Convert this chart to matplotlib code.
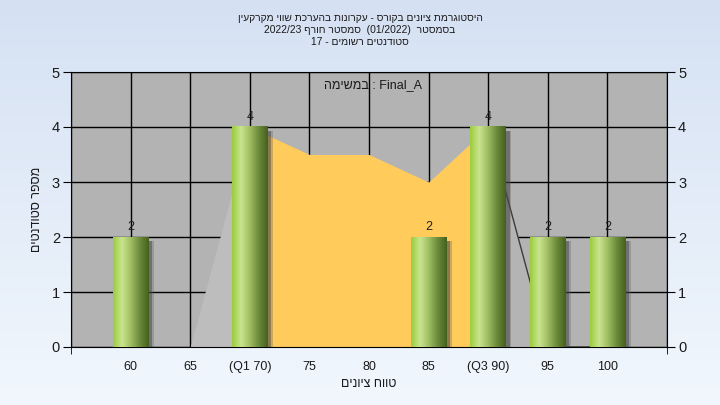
#Grade histogram chart (Hebrew course report)
import re
import numpy as np
import matplotlib
matplotlib.use('Agg')
import matplotlib.pyplot as plt
from matplotlib.colors import LinearSegmentedColormap

plt.rcParams['font.family'] = ['Liberation Sans', 'DejaVu Sans']

# data
categories = ['60', '65', '(Q1 70)', '75', '80', '85', '(Q3 90)', '95', '100']
counts = [2, 0, 4, 0, 0, 2, 4, 2, 2]
area_values = [0, 0, 4, 3.5, 3.5, 3, 4, 0, 0]
q1_idx = 2
q3_idx = 6

title_lines = ['היסטוגרמת ציונים בקורס - עקרונות בהערכת שווי מקרקעין',
               'בסמסטר  (01/2022)  סמסטר חורף 2022/23',
               'סטודנטים רשומים - 17']
legend_word = 'במשימה'
legend_name = 'Final_A'
x_title = 'טווח ציונים'
y_title = 'מספר סטודנטים'


def rtl(s):
    """Turn logical Hebrew text into visual order for matplotlib."""
    s = s[::-1].translate(str.maketrans('()', ')('))
    return re.sub(r'[A-Za-z0-9][A-Za-z0-9/._]*', lambda m: m.group(0)[::-1], s)


fig = plt.figure(figsize=(7.2, 4.05), dpi=100)

# light blue page background
bg = fig.add_axes([0, 0, 1, 1], zorder=-10)
grad = np.linspace(0, 1, 256).reshape(-1, 1)
bg.imshow(grad, aspect='auto', extent=[0, 1, 0, 1],
          cmap=LinearSegmentedColormap.from_list('bg', ['#d5e1f3', '#f1f7fd']))
bg.axis('off')

ax = fig.add_axes([71 / 720, 1 - 347 / 405, 596 / 720, 275 / 405])
ax.set_facecolor('#b3b3b3')
x = np.arange(len(categories))

# grid
for xi in np.arange(-1, len(categories) + 1):
    ax.axvline(xi, color='black', lw=1, zorder=0.5)
for yi in range(0, 6):
    ax.axhline(yi, color='black', lw=1, zorder=0.5)

# distribution area: grey outside the quartiles, yellow between them
ax.fill_between(x[:q1_idx + 1], area_values[:q1_idx + 1], color='#bdbdbd', lw=0, zorder=1)
ax.fill_between(x[q1_idx:q3_idx + 1], area_values[q1_idx:q3_idx + 1], color='#ffcb5b', lw=0, zorder=1.2)
ax.fill_between(x[q3_idx:], area_values[q3_idx:], color='#b4b4b4', lw=0, zorder=1)
ax.plot(x[q3_idx:], area_values[q3_idx:], color='#3c3c3c', lw=1, zorder=1.3)

# bars with shadow and cylinder-like gradient
bars = ax.bar(x, counts, width=0.6, color='none', zorder=3)
cyl = LinearSegmentedColormap.from_list(
    'cyl', ['#9ccc3c', '#c9e48f', '#9fbd62', '#6b8a3a', '#45601e'])
hgrad = np.linspace(0, 1, 128).reshape(1, -1)
for rect, c in zip(bars, counts):
    if c == 0:
        continue
    x0, w = rect.get_x(), rect.get_width()
    ax.bar(x0 + w / 2 + 0.09, c - 0.02, width=w, bottom=-0.06,
           color='#5a5a5a', alpha=0.3, lw=0, zorder=2)
    ax.bar(x0 + w / 2 + 0.06, c - 0.04, width=w, bottom=-0.03,
           color='#404040', alpha=0.45, lw=0, zorder=2.1)
    ax.imshow(hgrad, cmap=cyl, aspect='auto', extent=[x0, x0 + w, 0, c], zorder=3)
    ax.text(rect.get_x() + w / 2, c + 0.08, str(c), ha='center', va='bottom',
            fontsize=9, color='#202020', zorder=4)

ax.set_xlim(-1, len(categories))
ax.set_ylim(0, 5)

ax.set_xticks(x)
ax.set_xticklabels(categories, fontsize=9, color='#1a1a1a')
ax.tick_params(axis='x', length=0, pad=10)
zero_pos = [-1, len(categories)] + [i for i, c in enumerate(counts) if c == 0]
ax.set_xticks(zero_pos, minor=True)
ax.tick_params(axis='x', which='minor', length=5, color='black', direction='out')

ax.set_yticks(range(0, 6))
ax.tick_params(axis='y', length=6, color='black', labelsize=10.5, labelcolor='#1a1a1a',
               left=True, right=True, labelleft=True, labelright=True, pad=2)
for s in ax.spines.values():
    s.set_color('black')

ax.set_xlabel(rtl(x_title), fontsize=9, labelpad=4, color='#1a1a1a')
ax.set_ylabel(rtl(y_title), fontsize=9, labelpad=6, color='#1a1a1a')

ax.text(4.06, 4.76, rtl(legend_word) + ' : ' + legend_name, ha='center', va='center',
        fontsize=9, color='#1a1a1a', zorder=4)

for i, line in enumerate(title_lines):
    fig.text(0.5, 1 - (18 + 12 * i) / 405, rtl(line), ha='center', va='center',
             fontsize=7.4, color='#1a1a1a')

fig.savefig('out.png', dpi=100)
